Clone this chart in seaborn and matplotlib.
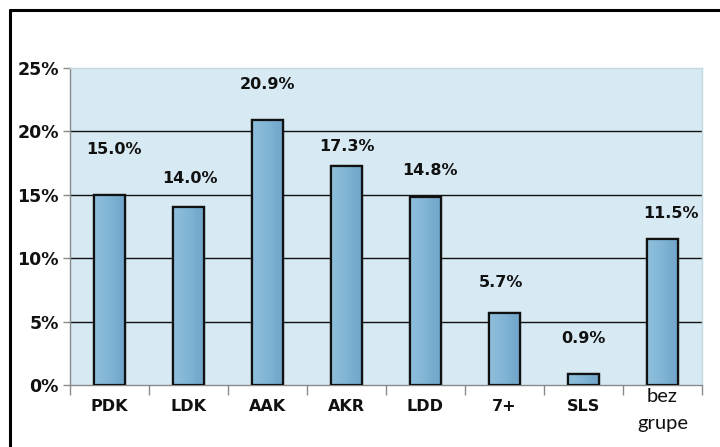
import matplotlib
matplotlib.use("Agg")
import matplotlib.pyplot as plt
import seaborn as sns
import numpy as np
import pandas as pd
from matplotlib.lines import Line2D
from matplotlib.ticker import FixedLocator, PercentFormatter
from matplotlib.colors import LinearSegmentedColormap

categories = ["PDK", "LDK", "AAK", "AKR", "LDD", "7+", "SLS", "bez\ngrupe"]
values = [15.0, 14.0, 20.9, 17.3, 14.8, 5.7, 0.9, 11.5]
value_labels = ["15.0%", "14.0%", "20.9%", "17.3%", "14.8%", "5.7%", "0.9%", "11.5%"]
y_ticks = [0, 5, 10, 15, 20, 25]

# label placement (style only): pixel offsets above bar tops
label_dy = [45, 29, 35, 19, 27, 30, 35, 26]
label_dx = [4, 1, 0, 0, 4, -3, 0, 8]

sns.set_theme(style="white")
plt.rcParams["font.family"] = ["DejaVu Sans"]

fig = plt.figure(figsize=(7.2, 4.47), dpi=100)
ax = fig.add_axes([70/720, 1-385/447, (702-70)/720, (385-68)/447])

df = pd.DataFrame({"cat": categories, "val": values})
sns.barplot(data=df, x="cat", y="val", color="#7fb2d4", width=0.4,
            edgecolor="#111111", linewidth=1.6, saturation=1, ax=ax, zorder=3)

ax.set_facecolor("#d7eaf3")
ax.yaxis.set_major_locator(FixedLocator(y_ticks))
ax.yaxis.set_major_formatter(PercentFormatter(decimals=0))
for y in y_ticks[1:-1]:
    ax.axhline(y, color="#111111", lw=1.0, zorder=1)

# gradient fill on bars
grad = np.linspace(0, 1, 64).reshape(1, -1)
cmap = LinearSegmentedColormap.from_list("g", ["#8fc0dd", "#80b4d5", "#6fa3c8"])
for p in list(ax.patches):
    x0, y0 = p.get_x(), p.get_y()
    w, h = p.get_width(), p.get_height()
    im = ax.imshow(grad, extent=[x0, x0 + w, y0, y0 + h], aspect="auto",
                   cmap=cmap, zorder=3.5, origin="lower")
    im.set_clip_path(p)
    p2 = plt.Rectangle((x0, y0), w, h, fill=False, edgecolor="#111111",
                       linewidth=1.6, zorder=4)
    ax.add_patch(p2)
ax.set_xlim(-0.5, len(categories) - 0.5)
ax.set_ylim(0, 25)

for i, (v, lab) in enumerate(zip(values, value_labels)):
    ax.annotate(lab, (i, v), xytext=(label_dx[i], label_dy[i]),
                textcoords="offset pixels", ha="center", va="center",
                fontsize=11.5, fontweight="bold", color="#111111", zorder=5)

ax.set_xlabel("")
ax.set_ylabel("")
for s in ["top", "right"]:
    ax.spines[s].set_color("#c5d9e3")
    ax.spines[s].set_linewidth(1)
for s in ["left", "bottom"]:
    ax.spines[s].set_color("#8a8a8a")
    ax.spines[s].set_linewidth(1)

ax.tick_params(axis="y", which="major", length=5, width=1, color="#8a8a8a",
               direction="out", left=True, pad=3, labelsize=12.5)
for t in ax.get_yticklabels():
    t.set_fontweight("bold")
    t.set_color("#111111")

ax.xaxis.set_minor_locator(FixedLocator(np.arange(-0.5, len(categories), 1.0)))
ax.tick_params(axis="x", which="major", length=0, pad=10, labelsize=11.5)
ax.tick_params(axis="x", which="minor", length=7, width=1, color="#8a8a8a",
               direction="out", bottom=True)
ax.xaxis.get_major_ticks()[-1].set_pad(2)
for t in ax.get_xticklabels():
    t.set_color("#111111")
    if "\n" in t.get_text():
        t.set_fontweight("normal")
        t.set_family(["Lato", "DejaVu Sans"])
        t.set_fontsize(14.5)
        t.set_linespacing(1.75)
    else:
        t.set_fontweight("bold")

# outer frame lines (top and left)
fig.add_artist(Line2D([10/720, 1.0], [1-10/447, 1-10/447], color="black",
                      lw=2.2, transform=fig.transFigure))
fig.add_artist(Line2D([10/720, 10/720], [0, 1-10/447], color="black",
                      lw=2.2, transform=fig.transFigure))

fig.savefig("out.png", dpi=100)
